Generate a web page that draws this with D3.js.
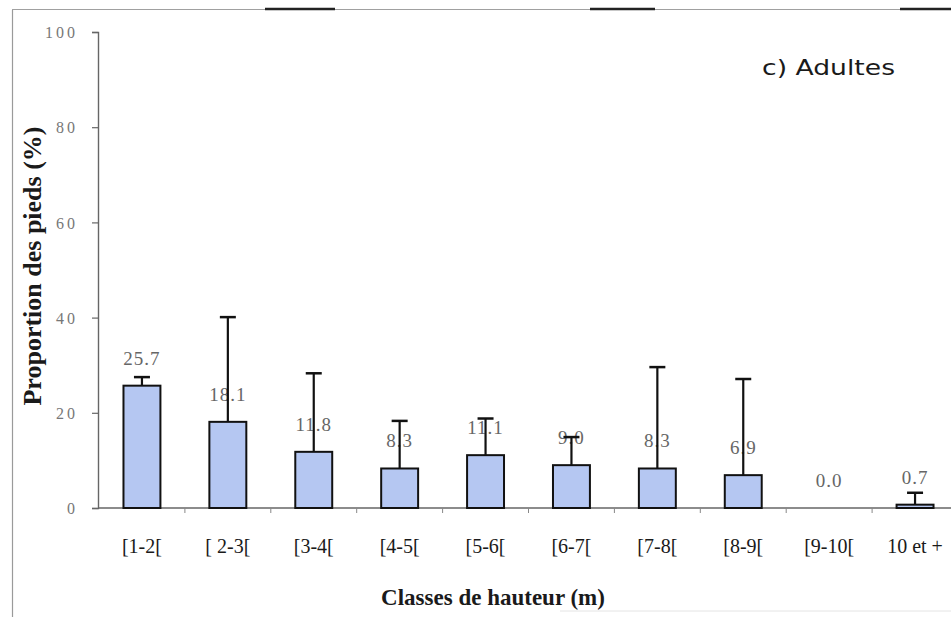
<!DOCTYPE html>
<html>
<head>
<meta charset="utf-8">
<script src="https://cdn.jsdelivr.net/npm/d3@7/dist/d3.min.js"></script>
<style>
  html, body { margin: 0; padding: 0; background: #fff; }
  svg { display: block; }
</style>
</head>
<body>
<svg id="chart" width="951" height="617"></svg>
<script>
// Height classes and mean proportion of stems (%) with upper standard deviation
const categories = ["[1-2[", "[ 2-3[", "[3-4[", "[4-5[", "[5-6[", "[6-7[", "[7-8[", "[8-9[", "[9-10[", "10 et +"];
const values     = [25.7, 18.1, 11.8, 8.3, 11.1, 9.0, 8.3, 6.9, 0.0, 0.7];
const errorsUp   = [1.8, 22.0, 16.5, 10.0, 7.7, 5.9, 21.3, 20.2, 0, 2.5];
const yTicks     = [0, 20, 40, 60, 80, 100];

const svg = d3.select("#chart");
const W = 951, H = 617;

const y = d3.scaleLinear().domain([0, 100]).range([508, 32]);
const x = d3.scaleBand().domain(categories).range([99, 958])
  .paddingInner(0.57).paddingOuter(0.285);

// page frame
const frame = svg.append("g");
frame.append("line").attr("x1", 12.5).attr("x2", 12.5).attr("y1", 10).attr("y2", H)
  .attr("stroke", "#9a9a9a").attr("stroke-width", 1.2);
frame.append("line").attr("x1", 12).attr("x2", W).attr("y1", 9.5).attr("y2", 9.5)
  .attr("stroke", "#a0a0a0").attr("stroke-width", 1.2);
[[265, 335], [590, 655], [900, 951]].forEach(([a, b]) => {
  frame.append("line").attr("x1", a).attr("x2", b).attr("y1", 9).attr("y2", 9)
    .attr("stroke", "#222").attr("stroke-width", 2.5);
});
frame.append("line").attr("x1", 560).attr("x2", W).attr("y1", 611).attr("y2", 611)
  .attr("stroke", "#e4e4e4").attr("stroke-width", 1);

// y axis
const yAxis = svg.append("g").attr("transform", "translate(98,0)")
  .call(d3.axisLeft(y).tickValues(yTicks).tickSize(6).tickPadding(14).tickFormat(d3.format("d")));
yAxis.select(".domain").attr("stroke", "#666").attr("stroke-width", 1.4);
yAxis.selectAll(".tick line").attr("stroke", "#666").attr("stroke-width", 1.2);
yAxis.selectAll(".tick text")
  .attr("font-family", "'Liberation Serif', 'Times New Roman', serif")
  .attr("font-size", 16).attr("fill", "#777")
  .attr("letter-spacing", "3px").attr("dy", "0.35em");

// x axis line and ticks at class boundaries
svg.append("line").attr("x1", 98).attr("x2", W).attr("y1", y(0)).attr("y2", y(0))
  .attr("stroke", "#666").attr("stroke-width", 1.4);
const bounds = categories.map(c => x(c) + x.bandwidth() / 2 + x.step() / 2);
svg.append("g").selectAll("line").data(bounds).join("line")
  .attr("x1", d => d).attr("x2", d => d)
  .attr("y1", y(0)).attr("y2", y(0) + 5)
  .attr("stroke", "#888").attr("stroke-width", 1);

// category labels
svg.append("g").selectAll("text").data(categories).join("text")
  .attr("x", d => x(d) + x.bandwidth() / 2)
  .attr("y", 553)
  .attr("text-anchor", "middle")
  .attr("font-family", "'Liberation Serif', 'Times New Roman', serif")
  .attr("font-size", 20).attr("fill", "#1a1a1a")
  .text(d => d);

// bars
const data = categories.map((c, i) => ({ c, v: values[i], e: errorsUp[i] }));
svg.append("g").selectAll("rect").data(data).join("rect")
  .attr("x", d => x(d.c))
  .attr("y", d => y(d.v))
  .attr("width", x.bandwidth())
  .attr("height", d => y(0) - y(d.v))
  .attr("fill", "#b5c7f2")
  .attr("stroke", "#111").attr("stroke-width", 2);

// value labels
svg.append("g").selectAll("text").data(data).join("text")
  .attr("x", d => x(d.c) + x.bandwidth() / 2)
  .attr("y", d => y(d.v) - 21)
  .attr("text-anchor", "middle")
  .attr("font-family", "'Liberation Serif', 'Times New Roman', serif")
  .attr("font-size", 19).attr("fill", "#666")
  .attr("letter-spacing", "1px")
  .text(d => d3.format(".1f")(d.v));

// upper error bars
const eb = svg.append("g").selectAll("g").data(data.filter(d => d.e > 0)).join("g")
  .attr("transform", d => `translate(${x(d.c) + x.bandwidth() / 2},0)`);
eb.append("line")
  .attr("x1", 0).attr("x2", 0)
  .attr("y1", d => y(d.v)).attr("y2", d => y(d.v + d.e))
  .attr("stroke", "#111").attr("stroke-width", 2.2);
eb.append("line")
  .attr("x1", -8).attr("x2", 8)
  .attr("y1", d => y(d.v + d.e)).attr("y2", d => y(d.v + d.e))
  .attr("stroke", "#111").attr("stroke-width", 2.5);

// titles
svg.append("text")
  .attr("x", 493).attr("y", 605)
  .attr("text-anchor", "middle")
  .attr("font-family", "'Liberation Serif', 'Times New Roman', serif")
  .attr("font-weight", "bold").attr("font-size", 23).attr("fill", "#1a1a1a")
  .text("Classes de hauteur (m)");

svg.append("text")
  .attr("transform", "translate(41,266) rotate(-90)")
  .attr("text-anchor", "middle")
  .attr("font-family", "'Liberation Serif', 'Times New Roman', serif")
  .attr("font-weight", "bold").attr("font-size", 26).attr("fill", "#1a1a1a")
  .text("Proportion des pieds (%)");

svg.append("text")
  .attr("x", 762).attr("y", 75)
  .attr("font-family", "'DejaVu Sans', sans-serif")
  .attr("font-size", 21).attr("fill", "#1a1a1a")
  .attr("textLength", 133).attr("lengthAdjust", "spacingAndGlyphs")
  .text("c) Adultes");
</script>
</body>
</html>
